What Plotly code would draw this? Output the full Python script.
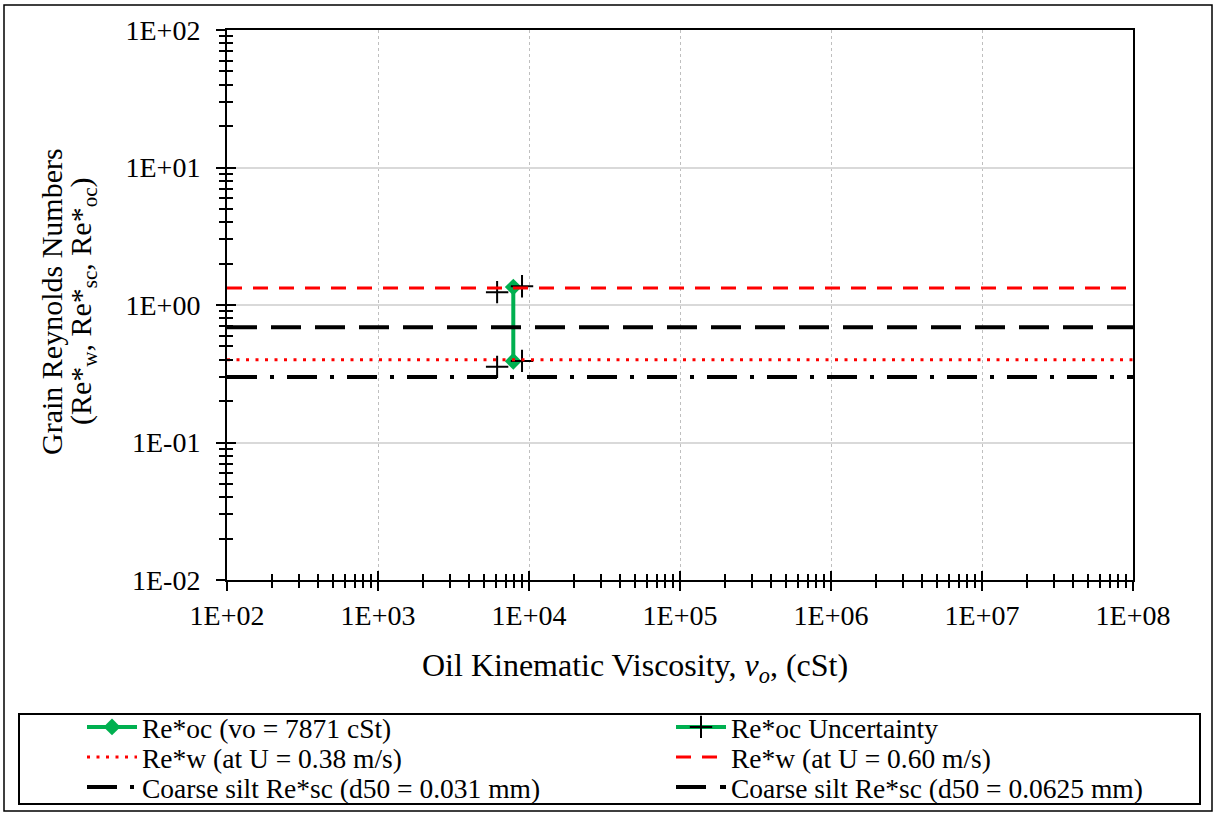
import plotly.graph_objects as go

# ---- data ----
x_span = [1e2, 1e8]
oc_x = [7871, 7871]
oc_y = [0.39, 1.35]
unc_x = [6150, None, 8990, None, 6150, None, 8990]
unc_y = [0.355, None, 0.392, None, 1.24, None, 1.37]
rew_038 = 0.40
rew_060 = 1.33
resc_031 = 0.30
resc_0625 = 0.69

x_tickvals = [1e2, 1e3, 1e4, 1e5, 1e6, 1e7, 1e8]
x_ticktext = ["1E+02", "1E+03", "1E+04", "1E+05", "1E+06", "1E+07", "1E+08"]
y_tickvals = [1e-2, 1e-1, 1e0, 1e1, 1e2]
y_ticktext = ["1E-02", "1E-01", "1E+00", "1E+01", "1E+02"]

FONT = "Liberation Serif"
GREEN = "#00b050"
RED = "#ff0000"

fig = go.Figure()

fig.add_trace(go.Scatter(
    x=oc_x, y=oc_y, mode="lines+markers", name="Re*oc (vo = 7871 cSt)",
    line=dict(color=GREEN, width=4), legend="legend",
    marker=dict(symbol="diamond", size=13, color=GREEN)))
fig.add_trace(go.Scatter(
    x=unc_x, y=unc_y, mode="lines+markers", name="Re*oc Uncertainty",
    line=dict(color=GREEN, width=4), connectgaps=False, legend="legend2",
    marker=dict(symbol="cross-thin", size=16, color="black",
                line=dict(color="black", width=2))))
fig.add_trace(go.Scatter(
    x=x_span, y=[rew_038, rew_038], mode="lines", name="Re*w (at U = 0.38 m/s)",
    legend="legend3",
    line=dict(color=RED, width=3, dash="3px,6.5px")))
fig.add_trace(go.Scatter(
    x=x_span, y=[rew_060, rew_060], mode="lines", name="Re*w (at U = 0.60 m/s)",
    legend="legend4",
    line=dict(color=RED, width=3, dash="15px,11px")))
fig.add_trace(go.Scatter(
    x=x_span, y=[resc_031, resc_031], mode="lines",
    name="Coarse silt Re*sc (d50 = 0.031 mm)", legend="legend5",
    line=dict(color="black", width=4, dash="30px,13px,4px,13px")))
fig.add_trace(go.Scatter(
    x=x_span, y=[resc_0625, resc_0625], mode="lines",
    name="Coarse silt Re*sc (d50 = 0.0625 mm)", legend="legend6",
    line=dict(color="black", width=4, dash="30px,14px")))

xr = [2, 8]
yr = [-2, 2]

W, H = 906.0, 550.0
def px(v):
    return (v - 227) / W
def py(v):
    return (580 - v) / H

leg_common = dict(
    orientation="v", xanchor="left", yanchor="top",
    font=dict(family=FONT, size=27.5, color="black"),
    bgcolor="rgba(0,0,0,0)", borderwidth=0, tracegroupgap=0,
    itemwidth=50,
)
col_x = [px(82), px(671)]
row_y = [py(702.5), py(732.5), py(762.5)]

fig.update_layout(
    width=1215, height=813,
    margin=dict(l=227, r=82, t=30, b=233, autoexpand=False),
    paper_bgcolor="white", plot_bgcolor="white",
    font=dict(family=FONT, color="black"),
    showlegend=True,
    legend=dict(x=col_x[0], y=row_y[0], **leg_common),
    legend2=dict(x=col_x[1], y=row_y[0], **leg_common),
    legend3=dict(x=col_x[0], y=row_y[1], **leg_common),
    legend4=dict(x=col_x[1], y=row_y[1], **leg_common),
    legend5=dict(x=col_x[0], y=row_y[2], **leg_common),
    legend6=dict(x=col_x[1], y=row_y[2], **leg_common),
    xaxis=dict(
        type="log", range=xr, tickvals=x_tickvals, ticktext=x_ticktext,
        ticks="outside", ticklen=9, tickwidth=2, tickcolor="black",
        showline=True, linecolor="black", linewidth=2, mirror=True,
        showgrid=True, gridcolor="#bfbfbf", gridwidth=1, griddash="dot",
        tickfont=dict(family=FONT, size=28, color="black"),
        ticklabelstandoff=0,
        minor=dict(dtick="D1", ticks="outside", ticklen=6, tickwidth=1.5,
                   tickcolor="black", showgrid=False),
        zeroline=False,
    ),
    yaxis=dict(
        type="log", range=yr, tickvals=y_tickvals, ticktext=y_ticktext,
        ticks="outside", ticklen=9, tickwidth=2, tickcolor="black",
        showline=True, linecolor="black", linewidth=2, mirror=True,
        showgrid=True, gridcolor="#d9d9d9", gridwidth=1.5,
        tickfont=dict(family=FONT, size=28, color="black"),
        ticklabelstandoff=10,
        minor=dict(dtick="D1", ticks="outside", ticklen=6, tickwidth=1.5,
                   tickcolor="black", showgrid=False),
        zeroline=False,
    ),
    xaxis2=dict(
        type="log", range=xr, overlaying="x", anchor="y", side="bottom",
        tickvals=x_tickvals, ticks="inside", ticklen=9, tickwidth=2,
        tickcolor="black", showticklabels=False, showgrid=False,
        showline=False, zeroline=False,
        minor=dict(dtick="D1", ticks="inside", ticklen=6, tickwidth=1.5,
                   tickcolor="black", showgrid=False),
    ),
    yaxis2=dict(
        type="log", range=yr, overlaying="y", anchor="x", side="left",
        tickvals=y_tickvals, ticks="inside", ticklen=9, tickwidth=2,
        tickcolor="black", showticklabels=False, showgrid=False,
        showline=False, zeroline=False,
        minor=dict(dtick="D1", ticks="inside", ticklen=6, tickwidth=1.5,
                   tickcolor="black", showgrid=False),
    ),
)

# invisible trace so the overlay axes are drawn
fig.add_trace(go.Scatter(x=[None], y=[None], xaxis="x2", yaxis="y2",
                         showlegend=False, hoverinfo="skip"))

# axis titles
fig.add_annotation(
    x=px(635), y=py(667), xref="paper", yref="paper",
    text="Oil Kinematic Viscosity, <i>v<sub>o</sub></i>, (cSt)",
    showarrow=False, xanchor="center", yanchor="middle",
    font=dict(family=FONT, size=32, color="black"))
fig.add_annotation(
    x=px(51), y=py(302), xref="paper", yref="paper",
    text="Grain Reynolds Numbers",
    textangle=-90, showarrow=False, xanchor="center", yanchor="middle",
    font=dict(family=FONT, size=30, color="black"))
fig.add_annotation(
    x=px(83), y=py(302), xref="paper", yref="paper",
    text="(Re*<sub>w</sub>, Re*<sub>sc</sub>, Re*<sub>oc</sub>)",
    textangle=-90, showarrow=False, xanchor="center", yanchor="middle",
    font=dict(family=FONT, size=30, color="black"))

# outer chart border and legend box
fig.add_shape(type="rect", xref="paper", yref="paper",
              x0=px(4), x1=px(1212), y0=py(811), y1=py(5),
              line=dict(color="black", width=1.5), layer="below")
fig.add_shape(type="rect", xref="paper", yref="paper",
              x0=px(19), x1=px(1200), y0=py(804), y1=py(714),
              line=dict(color="black", width=2), layer="below")

fig.write_html("out.html")
